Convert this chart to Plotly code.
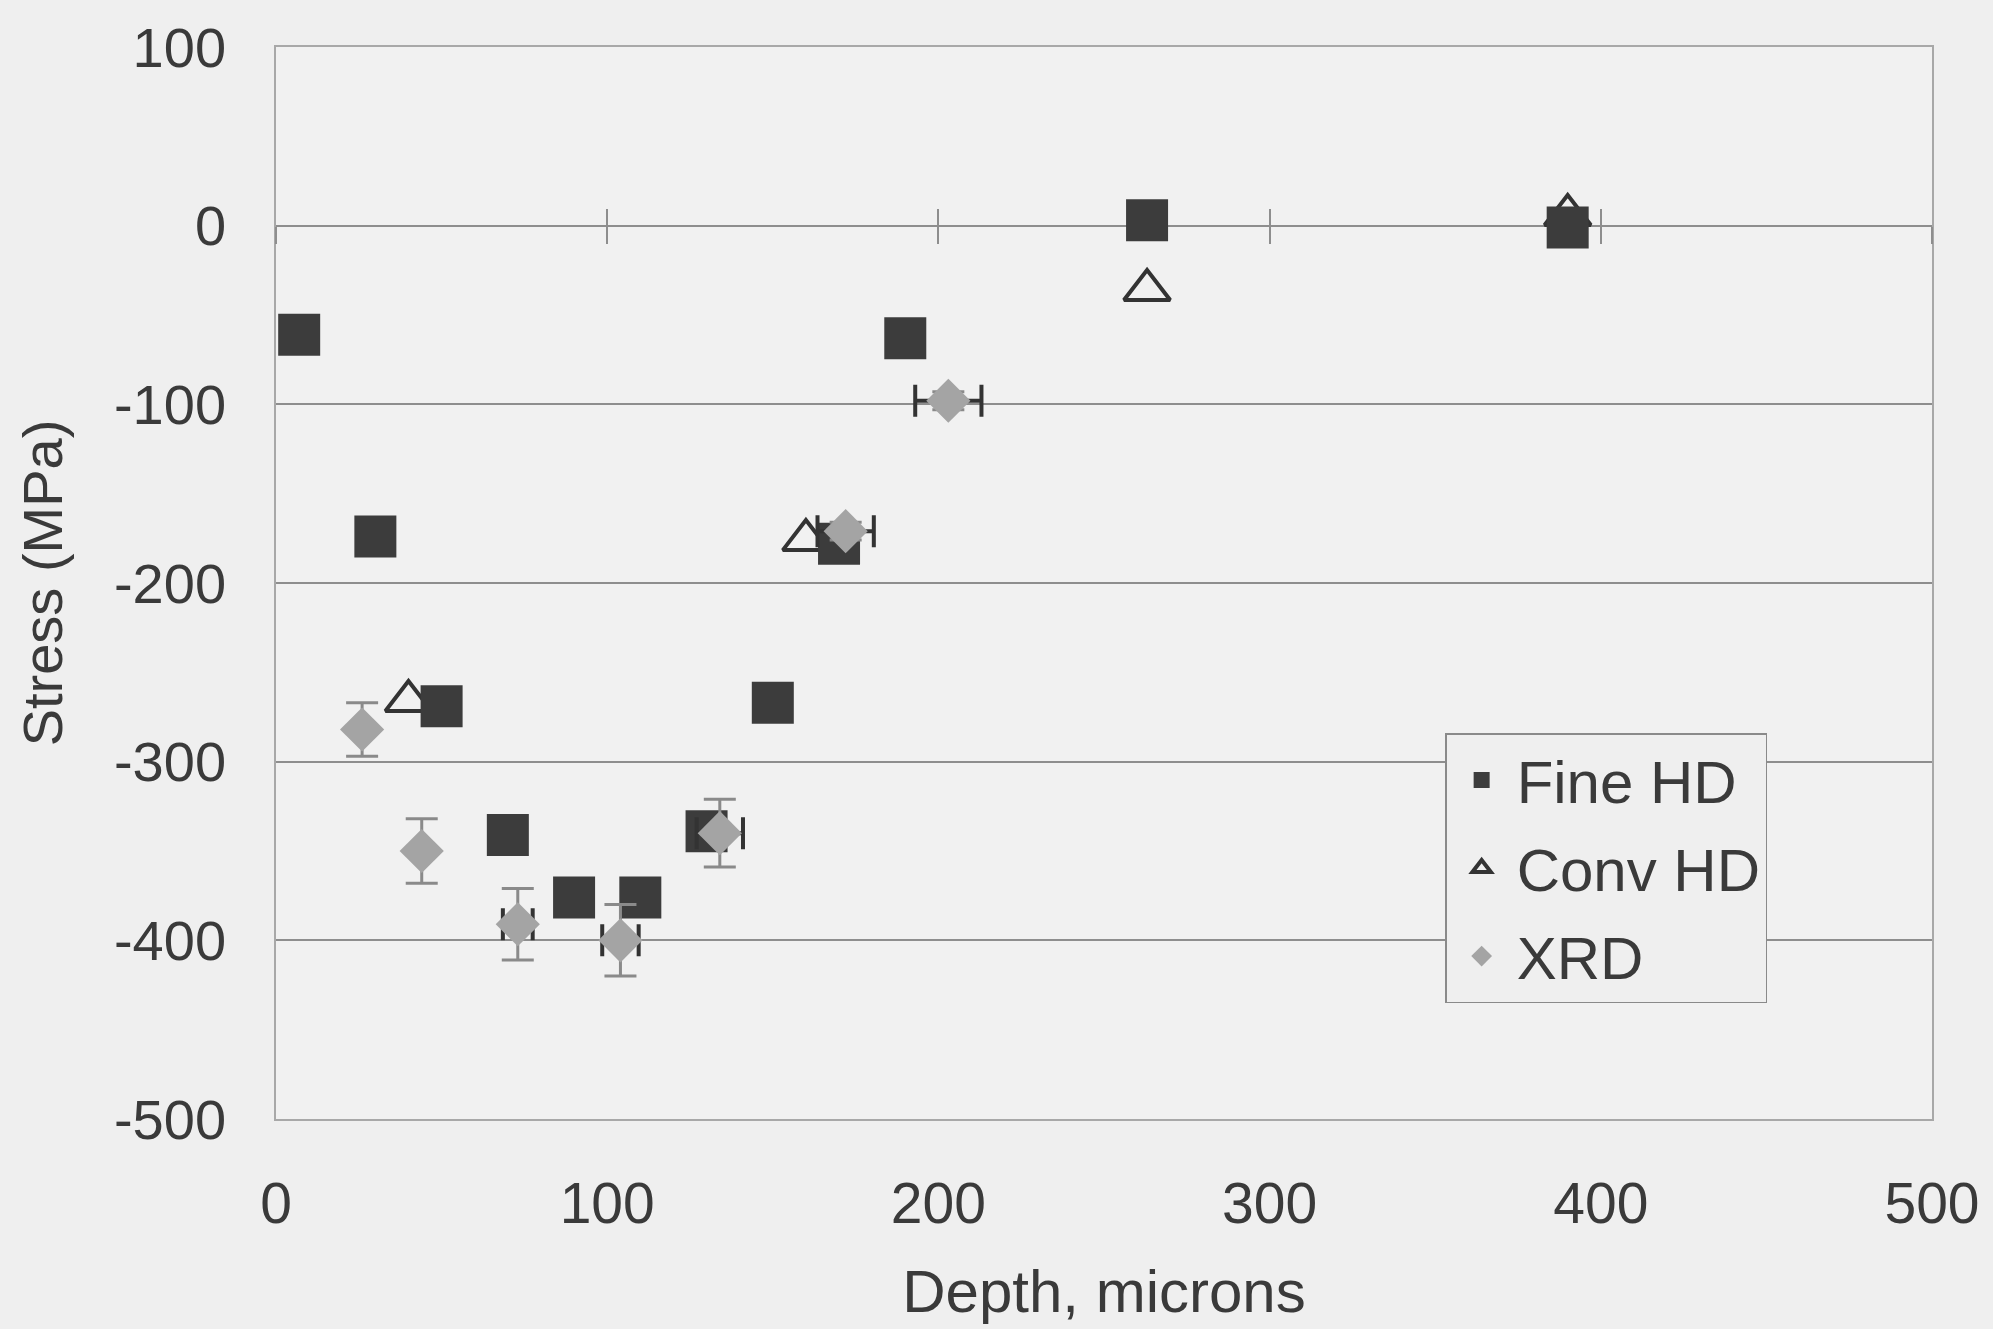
import plotly.graph_objects as go

# ---- data ----
fine_x = [7, 30, 50, 70, 90, 110, 130, 150, 170, 190, 263, 390]
fine_y = [-61, -174, -269, -341, -376, -376, -339, -267, -178, -63, 3, -1]

conv_x = [40, 160, 263, 390]
conv_y = [-266, -176, -36, 6]

xrd_x = [26, 44, 73, 104, 134, 172, 203]
xrd_y = [-282, -350, -391, -400, -340, -171, -98]
xrd_err_y = [15, 18, 20, 20, 19, 5, 5]
xrd_err_x = [0, 0, 4.5, 5.5, 7, 8.5, 10]

x_ticks = [0, 100, 200, 300, 400, 500]
x_tick_text = ["0", "100", "200", "300", "400", "500"]
y_ticks = [100, 0, -100, -200, -300, -400, -500]
y_tick_text = ["100", "0", "-100", "-200", "-300", "-400", "-500"]

FONT = "Liberation Sans, Arial, sans-serif"
TXT = "#3a3a3a"
BG = "#efefef"
GRID = "#8e8e8e"

fig = go.Figure()

fig.add_trace(go.Scatter(
    x=conv_x, y=conv_y, mode="markers", name="Conv HD", legendrank=2,
    legendgroup="c",
    marker=dict(symbol="triangle-up-open", size=40, color="#333333",
                line=dict(width=4, color="#333333")),
))
fig.add_trace(go.Scatter(
    x=fine_x, y=fine_y, mode="markers", name="Fine HD", legendrank=1,
    legendgroup="f",
    marker=dict(symbol="square", size=42, color="#3c3c3c",
                line=dict(width=0)),
))
fig.add_trace(go.Scatter(
    x=xrd_x, y=xrd_y, mode="markers", name="XRD", legendrank=3,
    legendgroup="x",
    marker=dict(symbol="diamond", size=34, color="#a4a4a4",
                line=dict(width=0)),
    error_y=dict(type="data", array=xrd_err_y, visible=True,
                 color="#8a8a8a", thickness=3, width=16),
    error_x=dict(type="data", array=xrd_err_x, visible=True,
                 color="#333333", thickness=4, width=16),
))
# empty traces so the cross-tick axes at y=0 are rendered
for ax in ["x2", "x3"]:
    fig.add_trace(go.Scatter(x=[], y=[], xaxis=ax, yaxis="y",
                             showlegend=False, hoverinfo="skip"))

W, H = 1993, 1329
ml, mr, mt, mb = 276, 61, 47, 210

tick_axis = dict(
    range=[0, 500], overlaying="x", anchor="free", position=5 / 6,
    tickvals=x_ticks, showticklabels=False, showgrid=False,
    zeroline=False, showline=False, ticklen=17, tickwidth=1.5,
    tickcolor=GRID,
)

fig.update_layout(
    width=W, height=H,
    margin=dict(l=ml, r=mr, t=mt, b=mb),
    paper_bgcolor=BG, plot_bgcolor="#f1f1f1",
    font=dict(family=FONT, color=TXT, size=56),
    xaxis=dict(
        range=[0, 500], tickvals=x_ticks, ticktext=x_tick_text,
        showgrid=False, zeroline=False, ticks="",
        showline=True, mirror=True, linecolor="#a8a8a8", linewidth=1.5,
        tickfont=dict(size=57, color=TXT), ticklabelstandoff=34,
        title=dict(text="Depth, microns", font=dict(size=60, color=TXT),
                   standoff=36),
    ),
    yaxis=dict(
        range=[-500, 100], tickvals=y_ticks, ticktext=y_tick_text,
        showgrid=True, gridcolor=GRID, gridwidth=2, zeroline=False,
        ticks="", showline=True, mirror=True, linecolor="#a8a8a8",
        linewidth=1.5, tickfont=dict(size=56, color=TXT),
        ticklabelstandoff=37,
        title=dict(text="Stress (MPa)", font=dict(size=56, color=TXT),
                   standoff=33),
    ),
    xaxis2=dict(tick_axis, ticks="outside"),
    xaxis3=dict(tick_axis, ticks="inside"),
    legend=dict(
        x=0.706, y=0.36, xanchor="left", yanchor="top",
        bgcolor=BG, bordercolor="#8a8a8a", borderwidth=1.5,
        font=dict(size=60, color=TXT, family=FONT),
        traceorder="grouped", tracegroupgap=7, itemwidth=60,
    ),
    showlegend=True,
)

fig.write_html(
    "out.html",
    config={"displayModeBar": False},
    post_script="document.body.style.margin='0';"
                "document.body.style.background='#efefef';",
)
